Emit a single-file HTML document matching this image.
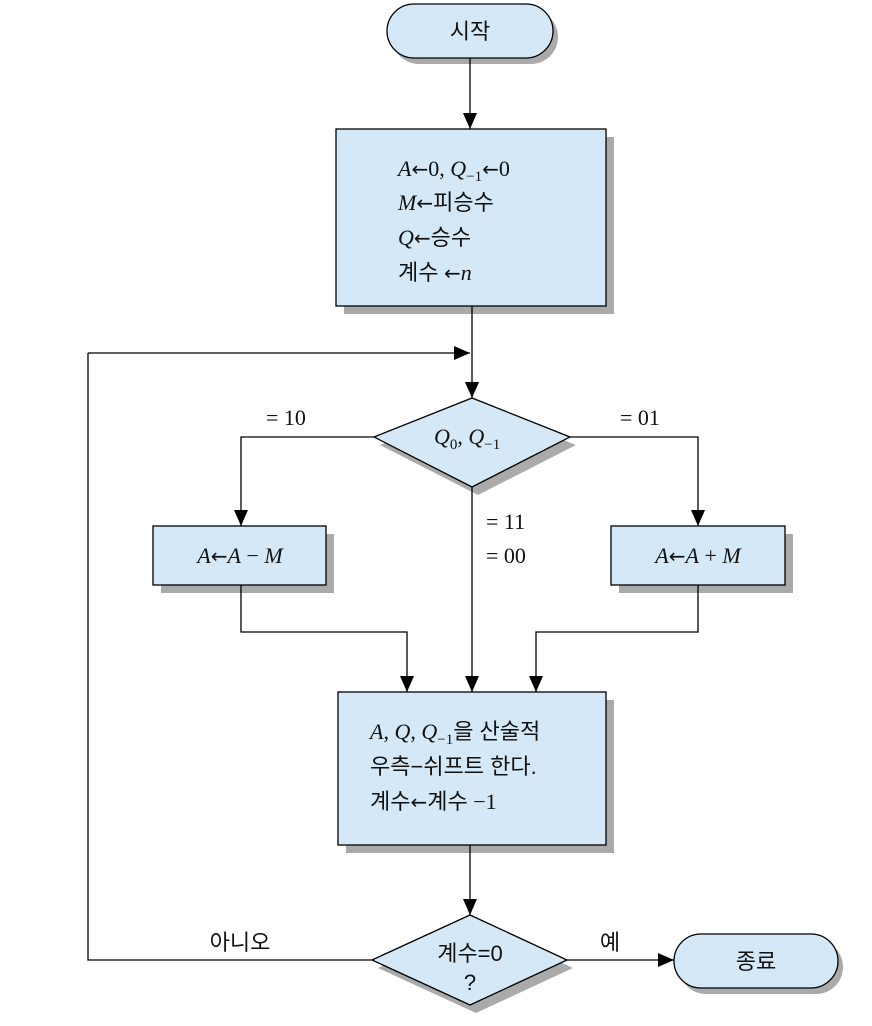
<!DOCTYPE html>
<html><head><meta charset="utf-8"><style>
body{margin:0;background:#fff}
text{font-family:"Liberation Serif","Noto Serif CJK SC","Noto Sans CJK KR",serif;font-size:22px;fill:#111}
.k{font-family:"Liberation Sans","Noto Sans CJK KR",sans-serif}
.i{font-style:italic}
.ar{font-family:"DejaVu Sans",sans-serif;font-size:20px}
</style></head><body>
<svg width="872" height="1021" viewBox="0 0 872 1021" xmlns="http://www.w3.org/2000/svg">
<defs><marker id="a" markerWidth="16" markerHeight="14" refX="16" refY="7" orient="auto" markerUnits="userSpaceOnUse"><path d="M0,0 L16,7 L0,14z" fill="#000"/></marker></defs>
<g fill="#aaa">
<rect x="392" y="10" width="166" height="54" rx="27"/>
<rect x="344" y="137" width="270" height="177"/>
<polygon points="380,445 478,406 576,445 478,495"/>
<rect x="161" y="534" width="173" height="59"/>
<rect x="619" y="534" width="174" height="59"/>
<rect x="346" y="700" width="268" height="153"/>
<polygon points="378,968 476,923 573,968 476,1013"/>
<rect x="679" y="940" width="164" height="54" rx="27"/>
</g>
<g fill="#d4e8f8" stroke="#000" stroke-width="1.3">
<rect x="387" y="4" width="166" height="54" rx="27"/>
<rect x="336" y="129" width="270" height="177"/>
<polygon points="374,437 472,398 570,437 472,487"/>
<rect x="153" y="526" width="173" height="59"/>
<rect x="611" y="526" width="174" height="59"/>
<rect x="338" y="692" width="268" height="153"/>
<polygon points="372,960 470,915 567,960 470,1005"/>
<rect x="674" y="934" width="164" height="54" rx="27"/>
</g>
<g stroke="#000" stroke-width="1.3" fill="none">
<path d="M470,58 V129" marker-end="url(#a)"/>
<path d="M472,306 V398" marker-end="url(#a)"/>
<path d="M88,353 H470" marker-end="url(#a)"/>
<path d="M374,437 H241 V526" marker-end="url(#a)"/>
<path d="M570,437 H698 V526" marker-end="url(#a)"/>
<path d="M472,487 V692" marker-end="url(#a)"/>
<path d="M241,585 V632 H407 V692" marker-end="url(#a)"/>
<path d="M698,585 V632 H536 V692" marker-end="url(#a)"/>
<path d="M470,845 V915" marker-end="url(#a)"/>
<path d="M372,960 H88 V353"/>
<path d="M567,960 H674" marker-end="url(#a)"/>
</g>
<text x="398" y="176"><tspan class="i">A</tspan><tspan class="ar">←</tspan>0, <tspan class="i">Q</tspan><tspan font-size="15" dy="5">−1</tspan><tspan dy="-5" class="ar">←</tspan>0</text>
<text x="398" y="210"><tspan class="i">M</tspan><tspan class="ar">←</tspan><tspan class="k">피승수</tspan></text>
<text x="398" y="245"><tspan class="i">Q</tspan><tspan class="ar">←</tspan><tspan class="k">승수</tspan></text>
<text x="398" y="280"><tspan class="k">계수</tspan> <tspan class="ar">←</tspan><tspan class="i">n</tspan></text>
<text x="434" y="444"><tspan class="i">Q</tspan><tspan font-size="15" dy="5">0</tspan><tspan dy="-5">, </tspan><tspan class="i">Q</tspan><tspan font-size="15" dy="5">−1</tspan></text>
<text x="266" y="425">= 10</text>
<text x="620" y="425">= 01</text>
<text x="486" y="529">= 11</text>
<text x="486" y="563">= 00</text>
<text x="240" y="563" text-anchor="middle"><tspan class="i">A</tspan><tspan class="ar">←</tspan><tspan class="i">A</tspan> − <tspan class="i">M</tspan></text>
<text x="698" y="563" text-anchor="middle"><tspan class="i">A</tspan><tspan class="ar">←</tspan><tspan class="i">A</tspan> + <tspan class="i">M</tspan></text>
<text x="370" y="739"><tspan class="i">A</tspan>, <tspan class="i">Q</tspan>, <tspan class="i">Q</tspan><tspan font-size="15" dy="5">−1</tspan><tspan dy="-5" class="k">을 산술적</tspan></text>
<text x="370" y="774" class="k">우측−쉬프트 한다.</text>
<text x="370" y="809"><tspan class="k">계수</tspan><tspan class="ar">←</tspan><tspan class="k">계수</tspan> −1</text>
<text x="470" y="961" class="k" text-anchor="middle">계수=0</text>
<text x="470" y="990" class="k" text-anchor="middle">?</text>
<text x="240" y="950" class="k" text-anchor="middle">아니오</text>
<text x="610" y="950" class="k" text-anchor="middle">예</text>
<text x="470" y="39" class="k" text-anchor="middle">시작</text>
<text x="756" y="969" class="k" text-anchor="middle">종료</text>
</svg>
</body></html>
